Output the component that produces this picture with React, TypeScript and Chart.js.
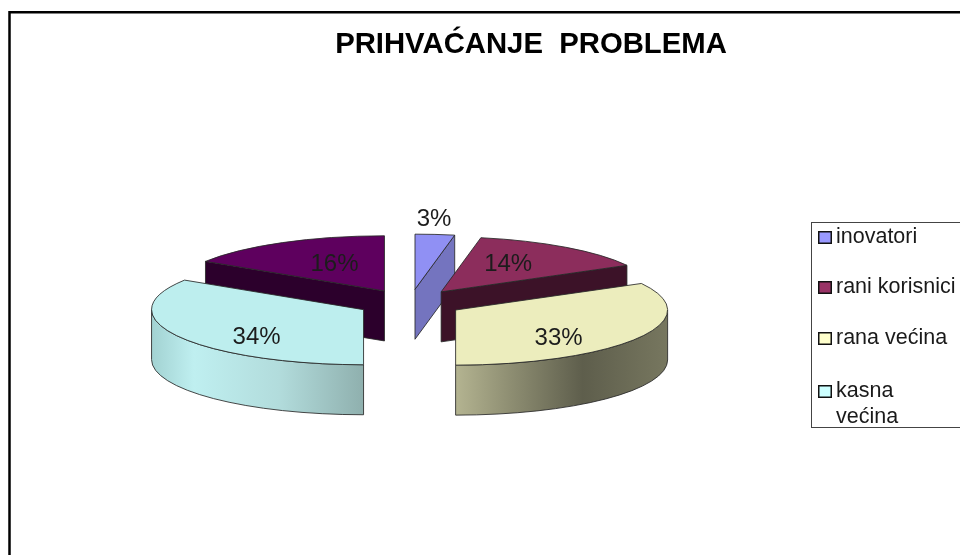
import React, { useEffect, useRef } from "react";
import { Chart, registerables } from "chart.js";

Chart.register(...registerables);

const categories = ["inovatori", "rani korisnici", "rana većina", "kasna većina", ""];
const shares = [3, 14, 33, 34, 16];
const topColors = ["#9090f4", "#8c2d5c", "#ecedbd", "#bdeeee", "#5e005e"];
const faceColors = ["#7474bf", "#3c1228", "#66664f", "#8fb0ae", "#2c002c"];
const swatchColors = ["#9999ff", "#993366", "#ffffcc", "#ccffff"];
const legendLines = [["inovatori"], ["rani korisnici"], ["rana većina"], ["kasna", "većina"]];
const chartTitle = "PRIHVAĆANJE  PROBLEMA";

const wallStops: Record<number, [number, string][]> = {
  2: [[0, "#b4b491"], [0.25, "#8f8f73"], [0.6, "#5e5e4c"], [1, "#77775f"]],
  3: [[0, "#a2d2d2"], [0.2, "#bfeff0"], [0.6, "#b2dcdc"], [1, "#8fb0ae"]],
};

const CENTER = { x: 410, y: 303 };
const EXPLODE = 53;
const TILT = 0.26;
const DEPTH = 50;
const OUTLINE = "rgba(40,40,40,0.85)";
const LABEL_NUDGE = [
  [19, -70],
  [67, -27],
  [103, 28],
  [-107, 28],
  [-50, -27],
];

const pie3d = {
  id: "pie3d",
  beforeDatasetsDraw(chart: any) {
    const ctx: CanvasRenderingContext2D = chart.ctx;
    const arcs: any[] = chart.getDatasetMeta(0).data;

    const geom = arcs.map((arc, i) => {
      const mid = (arc.startAngle + arc.endAngle) / 2;
      return {
        i,
        s: arc.startAngle,
        e: arc.endAngle,
        r: arc.outerRadius,
        cx: CENTER.x + Math.cos(mid) * EXPLODE,
        cy: CENTER.y + Math.sin(mid) * EXPLODE * TILT,
      };
    });
    const order = [...geom].sort((a, b) => a.cy - b.cy);

    for (const g of order) {
      const ry = g.r * TILT;
      ctx.save();
      ctx.lineWidth = 1;
      ctx.strokeStyle = OUTLINE;
      ctx.lineJoin = "round";

      // Cut faces that look toward the viewer
      const faces: number[] = [];
      if (Math.sin(g.s + Math.PI / 2) < -1e-6) faces.push(g.s);
      if (Math.sin(g.e + Math.PI / 2) > 1e-6) faces.push(g.e);
      for (const t of faces) {
        const px = g.cx + g.r * Math.cos(t);
        const py = g.cy + ry * Math.sin(t);
        ctx.beginPath();
        ctx.moveTo(g.cx, g.cy);
        ctx.lineTo(px, py);
        ctx.lineTo(px, py + DEPTH);
        ctx.lineTo(g.cx, g.cy + DEPTH);
        ctx.closePath();
        ctx.fillStyle = faceColors[g.i];
        ctx.fill();
        ctx.stroke();
      }

      // Outer wall, only the part that faces the front
      const a = Math.max(g.s, 0);
      const b = Math.min(g.e, Math.PI);
      if (b > a) {
        const left = g.i === 2 ? g.cx : g.cx - g.r;
        const right = g.i === 2 ? g.cx + g.r : g.cx;
        const grad = ctx.createLinearGradient(left, 0, right, 0);
        for (const [p, c] of wallStops[g.i] ?? [[0, faceColors[g.i]], [1, faceColors[g.i]]]) {
          grad.addColorStop(p as number, c as string);
        }
        ctx.beginPath();
        ctx.ellipse(g.cx, g.cy, g.r, ry, 0, a, b);
        ctx.ellipse(g.cx, g.cy + DEPTH, g.r, ry, 0, b, a, true);
        ctx.closePath();
        ctx.fillStyle = grad;
        ctx.fill();
        ctx.stroke();
      }

      // Top of the slice
      ctx.beginPath();
      ctx.moveTo(g.cx, g.cy);
      ctx.ellipse(g.cx, g.cy, g.r, ry, 0, g.s, g.e);
      ctx.closePath();
      ctx.fillStyle = topColors[g.i];
      ctx.fill();
      ctx.stroke();
      ctx.restore();
    }

    // Percent labels
    ctx.save();
    ctx.font = '24px "Liberation Sans", Arial, sans-serif';
    ctx.fillStyle = "#1c1c1c";
    ctx.textAlign = "center";
    ctx.textBaseline = "middle";
    geom.forEach((g) => {
      const [dx, dy] = LABEL_NUDGE[g.i];
      ctx.fillText(`${shares[g.i]}%`, g.cx + dx, g.cy + dy);
    });
    ctx.restore();

    return false;
  },
  afterDraw(chart: any) {
    const ctx: CanvasRenderingContext2D = chart.ctx;
    ctx.save();

    // Outer frame runs off the right and bottom of the picture
    ctx.strokeStyle = "#000";
    ctx.lineWidth = 2.5;
    ctx.strokeRect(9.5, 12.25, 1200, 900);

    // Legend box, clipped by the right edge like the reference
    ctx.strokeStyle = "#444";
    ctx.lineWidth = 1;
    ctx.strokeRect(811.5, 222.5, 400, 205);

    ctx.font = '21.5px "Liberation Sans", Arial, sans-serif';
    ctx.textAlign = "left";
    ctx.textBaseline = "alphabetic";
    const rowTop = [231, 281, 332, 385];
    legendLines.forEach((lines, i) => {
      ctx.fillStyle = swatchColors[i];
      ctx.fillRect(818.75, rowTop[i] + 0.75, 12.5, 11.5);
      ctx.strokeStyle = "#111";
      ctx.lineWidth = 1.5;
      ctx.strokeRect(818.75, rowTop[i] + 0.75, 12.5, 11.5);
      ctx.fillStyle = "#1a1a1a";
      lines.forEach((line, k) => {
        ctx.fillText(line, 836, rowTop[i] + 12 + k * 26);
      });
    });
    ctx.restore();
  },
};

export default function App() {
  const ref = useRef<HTMLCanvasElement>(null);

  useEffect(() => {
    document.body.style.margin = "0";
    document.body.style.overflow = "hidden";
    const chart = new Chart(ref.current as HTMLCanvasElement, {
      type: "pie",
      data: {
        labels: categories,
        datasets: [{ data: shares, backgroundColor: topColors, borderWidth: 0 }],
      },
      options: {
        responsive: false,
        animation: false,
        events: [],
        radius: 212,
        layout: { padding: { left: 102 } },
        plugins: {
          legend: { display: false },
          tooltip: { enabled: false },
          title: {
            display: true,
            text: chartTitle,
            color: "#000",
            font: { family: '"Liberation Sans", Arial, sans-serif', size: 29.3, weight: "bold" },
            padding: { top: 27, bottom: 10 },
          },
        },
      } as any,
      plugins: [pie3d as any],
    });
    return () => chart.destroy();
  }, []);

  return (
    <div style={{ width: 960, height: 555, background: "#fff" }}>
      <canvas ref={ref} width={960} height={555} style={{ display: "block", filter: "blur(0.45px)" }} />
    </div>
  );
}
